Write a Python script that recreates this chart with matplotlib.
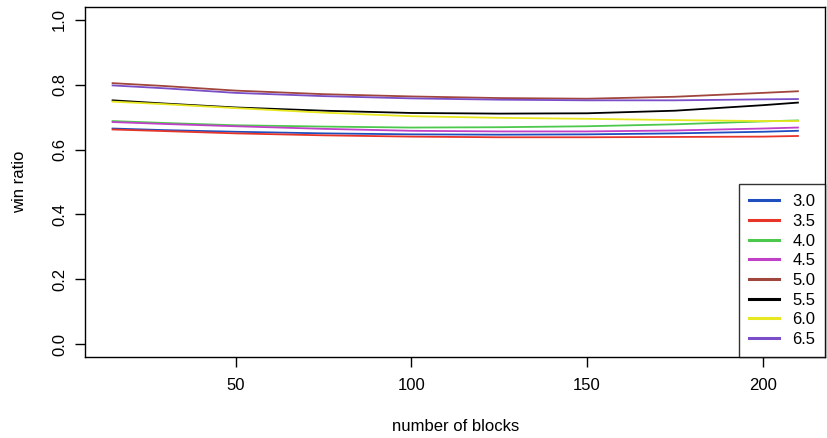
import matplotlib
matplotlib.use("Agg")
import matplotlib.pyplot as plt

plt.rcParams['font.family'] = ['Liberation Sans', 'DejaVu Sans']

# number of blocks where the curves were sampled
blocks = [15, 30, 50, 75, 100, 125, 150, 175, 200, 210]

# win ratio per parameter value
labels = ["3.0", "3.5", "4.0", "4.5", "5.0", "5.5", "6.0", "6.5"]
colors = ["#1f4fbf", "#e8352a", "#4cc94c", "#c040c8", "#a0463c", "#000000", "#e8e820", "#7a4ec8"]
ratio_30 = [0.665, 0.660, 0.655, 0.650, 0.647, 0.646, 0.647, 0.650, 0.655, 0.658]
ratio_35 = [0.662, 0.657, 0.650, 0.644, 0.640, 0.638, 0.638, 0.639, 0.640, 0.642]
ratio_40 = [0.688, 0.682, 0.675, 0.671, 0.668, 0.669, 0.672, 0.678, 0.687, 0.690]
ratio_45 = [0.685, 0.679, 0.672, 0.664, 0.658, 0.656, 0.656, 0.659, 0.665, 0.668]
ratio_50 = [0.805, 0.796, 0.782, 0.771, 0.764, 0.759, 0.757, 0.763, 0.775, 0.780]
ratio_55 = [0.752, 0.742, 0.730, 0.720, 0.713, 0.711, 0.712, 0.720, 0.737, 0.745]
ratio_60 = [0.748, 0.740, 0.728, 0.714, 0.703, 0.698, 0.695, 0.691, 0.688, 0.688]
ratio_65 = [0.798, 0.789, 0.775, 0.765, 0.758, 0.754, 0.752, 0.752, 0.755, 0.756]
series = [ratio_30, ratio_35, ratio_40, ratio_45, ratio_50, ratio_55, ratio_60, ratio_65]

fig = plt.figure(figsize=(8.27, 4.38), dpi=100)
ax = fig.add_axes([0.103, 0.185, 0.895, 0.799])

for lab, col, vals in zip(labels, colors, series):
    ax.plot(blocks, vals, color=col, lw=1.3, label=lab)

ax.set_xlim(7.2, 217.8)
ax.set_ylim(-0.04, 1.04)
ax.set_xticks([50, 100, 150, 200])
ax.set_yticks([0.0, 0.2, 0.4, 0.6, 0.8, 1.0])
ax.set_yticklabels(["0.0", "0.2", "0.4", "0.6", "0.8", "1.0"], rotation=90, va="center")
ax.tick_params(direction="out", length=7, width=1, labelsize=12, pad=8)
ax.tick_params(axis="y", pad=6)
for s in ax.spines.values():
    s.set_linewidth(1)

ax.set_xlabel("number of blocks", fontsize=12, labelpad=19)
ax.set_ylabel("win ratio", fontsize=12, labelpad=18)

leg = ax.legend(loc="lower right", borderaxespad=0, fancybox=False, fontsize=12,
                handlelength=1.8, labelspacing=0.28, borderpad=0.6, handletextpad=0.8)
leg.get_frame().set_edgecolor("black")
leg.get_frame().set_linewidth(1)
for line in leg.get_lines():
    line.set_linewidth(2.2)

fig.savefig("out.png", dpi=100)
